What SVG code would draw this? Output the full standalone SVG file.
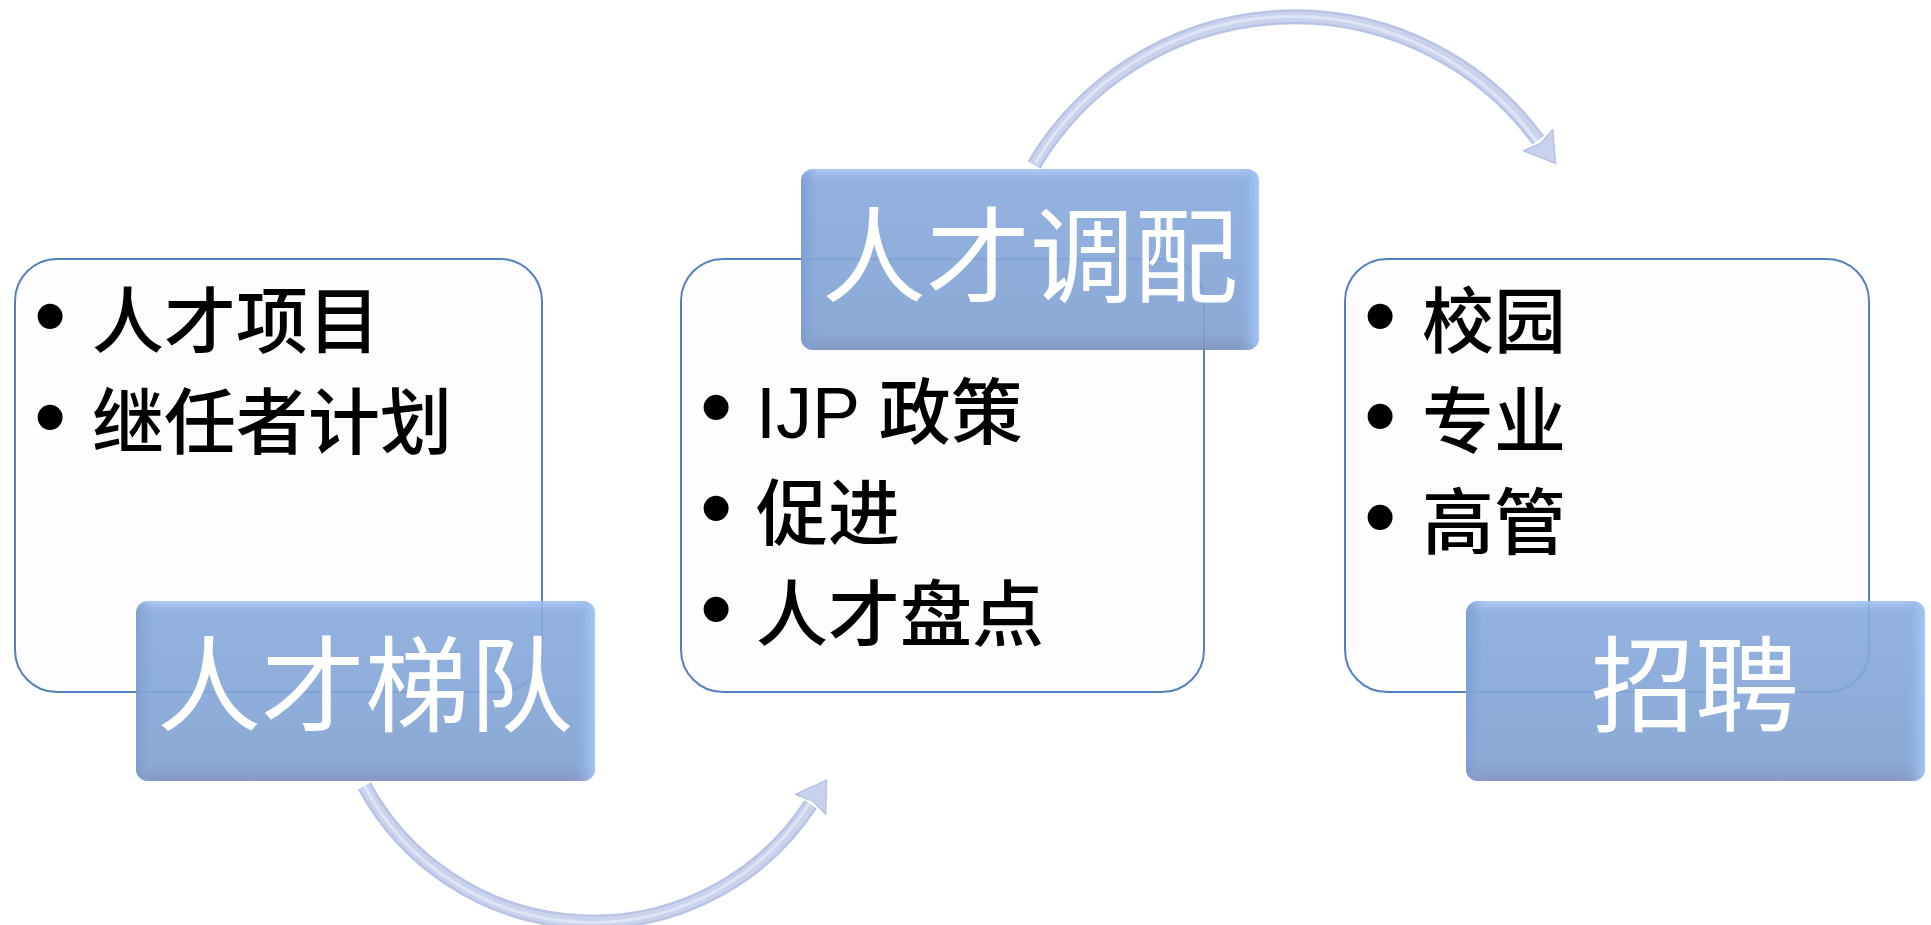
<svg xmlns="http://www.w3.org/2000/svg" width="1931" height="925" viewBox="0 0 1931 925">
<defs>
<linearGradient id="bv" x1="0" y1="0" x2="0" y2="1">
<stop offset="0" stop-color="#a3c5f7"/>
<stop offset="0.06" stop-color="#89abdc"/>
<stop offset="0.5" stop-color="#85a7d8"/>
<stop offset="0.9" stop-color="#82a2d1"/>
<stop offset="1" stop-color="#7a90bb"/>
</linearGradient>
<linearGradient id="bh" x1="0" y1="0" x2="1" y2="0">
<stop offset="0" stop-color="#7a9bcc" stop-opacity="0.8"/>
<stop offset="0.04" stop-color="#86a8d8" stop-opacity="0"/>
<stop offset="0.95" stop-color="#86a8d8" stop-opacity="0"/>
<stop offset="1" stop-color="#a6cafd" stop-opacity="0.9"/>
</linearGradient>
<style>
.wbox{fill:#fdfcff;stroke:#5480bf;stroke-width:2}
.bbase{fill:url(#bv);opacity:0.92}
.bedge{fill:url(#bh)}
.title{font-family:"Noto Sans CJK SC","Liberation Sans",sans-serif;font-size:104px;fill:#ffffff;text-anchor:middle}
.item{font-family:"Liberation Sans","Noto Sans CJK SC",sans-serif;font-size:72px;font-weight:500;fill:#000000}
.bul{font-family:"Liberation Sans",sans-serif;font-size:92px;fill:#000000;text-anchor:middle}
.arcO{fill:none;stroke:#b8c4e5;stroke-width:15}
.arcI{fill:none;stroke:#cad3ee;stroke-width:10}
.arcH{fill:none;stroke:#dfe5f6;stroke-width:3}
.head{fill:#c9d2ed;stroke:#b6c2e3;stroke-width:1.5;stroke-linejoin:round}
</style>
</defs>
<rect width="1931" height="925" fill="#ffffff"/>
<g id="connectors">
<path class="arcO" d="M 364.5 786.1 A 260 260 0 0 0 810.6 804.4"/>
<path class="arcI" d="M 364.5 786.1 A 260 260 0 0 0 810.6 804.4"/>
<path class="arcH" d="M 364.5 786.1 A 258 258 0 0 0 809.4 803.5"/>
<polygon class="head" points="795.5,794.5 826.5,780.1 825.7,814.3 812.8,801.1"/>
<path class="arcO" d="M 1034 164.8 A 303 303 0 0 1 1538.2 140.1"/>
<path class="arcI" d="M 1034 164.8 A 303 303 0 0 1 1538.2 140.1"/>
<path class="arcH" d="M 1035.5 162.5 A 300 300 0 0 1 1536.5 141.5"/>
<polygon class="head" points="1552.7,129.4 1555.4,163.4 1523.7,150.8 1540.5,143.5"/>
</g>
<g id="node-ladder">
<rect class="wbox" x="15" y="259" width="527" height="433" rx="42"/>
<text class="bul" x="50" y="347">•</text>
<text class="item" x="92" y="347">人才项目</text>
<text class="bul" x="50" y="448">•</text>
<text class="item" x="92" y="448">继任者计划</text>
<rect class="bbase" x="136" y="601" width="459" height="180" rx="12"/>
<rect class="bedge" x="136" y="601" width="459" height="180" rx="12"/>
<text class="title" x="365" y="724">人才梯队</text>
</g>
<g id="node-deploy">
<rect class="wbox" x="681" y="259" width="523" height="433" rx="42"/>
<text class="bul" x="716" y="438">•</text>
<text class="item" x="756" y="438">IJP 政策</text>
<text class="bul" x="716" y="539">•</text>
<text class="item" x="756" y="539">促进</text>
<text class="bul" x="716" y="640">•</text>
<text class="item" x="756" y="640">人才盘点</text>
<rect class="bbase" x="801" y="169" width="458" height="181" rx="12"/>
<rect class="bedge" x="801" y="169" width="458" height="181" rx="12"/>
<text class="title" x="1030" y="295">人才调配</text>
</g>
<g id="node-recruit">
<rect class="wbox" x="1345" y="259" width="524" height="433" rx="42"/>
<text class="bul" x="1380" y="347">•</text>
<text class="item" x="1422" y="347">校园</text>
<text class="bul" x="1380" y="447">•</text>
<text class="item" x="1422" y="447">专业</text>
<text class="bul" x="1380" y="548">•</text>
<text class="item" x="1422" y="548">高管</text>
<rect class="bbase" x="1466" y="601" width="459" height="180" rx="12"/>
<rect class="bedge" x="1466" y="601" width="459" height="180" rx="12"/>
<text class="title" x="1695" y="724">招聘</text>
</g>
</svg>
